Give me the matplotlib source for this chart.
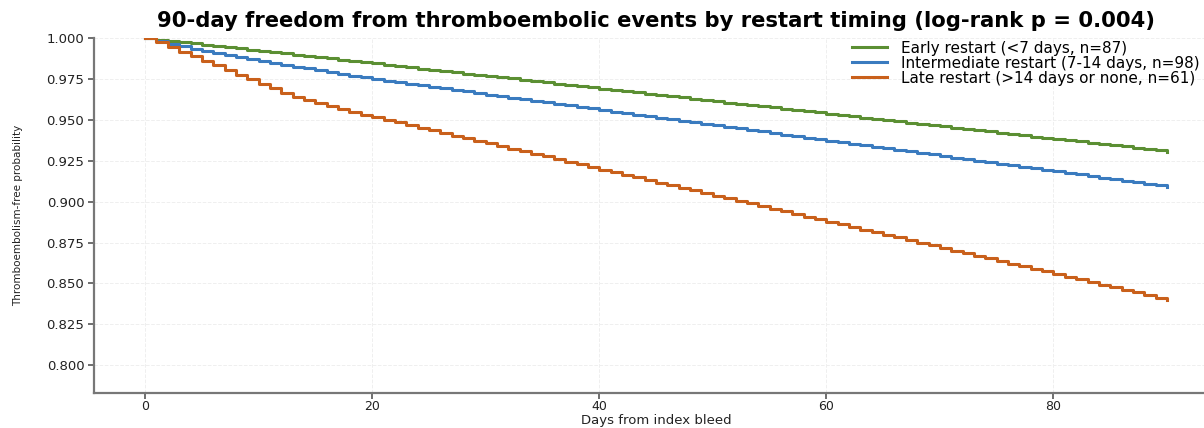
import matplotlib
matplotlib.use("Agg")
import matplotlib.pyplot as plt
from matplotlib.ticker import FormatStrFormatter

# ---- data ----
days = list(range(0, 91))

early = [1.0000, 0.9992, 0.9985, 0.9977, 0.9969, 0.9962, 0.9954, 0.9946, 0.9938, 0.9931,
         0.9923, 0.9915, 0.9908, 0.9900, 0.9892, 0.9885, 0.9877, 0.9869, 0.9861, 0.9854,
         0.9846, 0.9838, 0.9831, 0.9823, 0.9815, 0.9808, 0.9800, 0.9792, 0.9784, 0.9777,
         0.9769, 0.9761, 0.9754, 0.9746, 0.9738, 0.9731, 0.9723, 0.9715, 0.9707, 0.9700,
         0.9692, 0.9684, 0.9677, 0.9669, 0.9661, 0.9654, 0.9646, 0.9638, 0.9630, 0.9623,
         0.9615, 0.9607, 0.9600, 0.9592, 0.9584, 0.9577, 0.9569, 0.9561, 0.9553, 0.9546,
         0.9538, 0.9530, 0.9523, 0.9515, 0.9507, 0.9500, 0.9492, 0.9484, 0.9476, 0.9469,
         0.9461, 0.9453, 0.9446, 0.9438, 0.9430, 0.9423, 0.9415, 0.9407, 0.9399, 0.9392,
         0.9384, 0.9376, 0.9369, 0.9361, 0.9353, 0.9346, 0.9338, 0.9330, 0.9322, 0.9315,
         0.9307]

intermediate = [1.0000, 0.9984, 0.9968, 0.9952, 0.9937, 0.9922, 0.9910, 0.9898, 0.9886, 0.9874,
                0.9862, 0.9850, 0.9838, 0.9827, 0.9816, 0.9805, 0.9794, 0.9783, 0.9772, 0.9761,
                0.9751, 0.9741, 0.9731, 0.9722, 0.9712, 0.9703, 0.9693, 0.9684, 0.9675, 0.9665,
                0.9656, 0.9646, 0.9637, 0.9627, 0.9618, 0.9609, 0.9599, 0.9590, 0.9580, 0.9571,
                0.9562, 0.9552, 0.9543, 0.9533, 0.9524, 0.9515, 0.9505, 0.9496, 0.9486, 0.9477,
                0.9468, 0.9458, 0.9449, 0.9439, 0.9430, 0.9420, 0.9411, 0.9402, 0.9392, 0.9383,
                0.9373, 0.9364, 0.9355, 0.9345, 0.9336, 0.9326, 0.9317, 0.9308, 0.9298, 0.9289,
                0.9279, 0.9270, 0.9261, 0.9251, 0.9242, 0.9232, 0.9223, 0.9214, 0.9204, 0.9195,
                0.9185, 0.9176, 0.9167, 0.9157, 0.9148, 0.9138, 0.9129, 0.9119, 0.9110, 0.9101,
                0.9091]

late = [1.0000, 0.9977, 0.9949, 0.9918, 0.9892, 0.9863, 0.9834, 0.9806, 0.9777, 0.9749,
        0.9720, 0.9694, 0.9667, 0.9642, 0.9622, 0.9605, 0.9585, 0.9569, 0.9548, 0.9532,
        0.9516, 0.9499, 0.9485, 0.9469, 0.9453, 0.9437, 0.9421, 0.9405, 0.9389, 0.9373,
        0.9357, 0.9341, 0.9325, 0.9309, 0.9293, 0.9277, 0.9261, 0.9245, 0.9229, 0.9213,
        0.9197, 0.9181, 0.9165, 0.9149, 0.9133, 0.9117, 0.9101, 0.9085, 0.9069, 0.9053,
        0.9037, 0.9021, 0.9005, 0.8989, 0.8973, 0.8957, 0.8941, 0.8925, 0.8909, 0.8893,
        0.8877, 0.8861, 0.8845, 0.8829, 0.8813, 0.8797, 0.8781, 0.8765, 0.8749, 0.8733,
        0.8717, 0.8701, 0.8685, 0.8669, 0.8653, 0.8637, 0.8621, 0.8605, 0.8589, 0.8573,
        0.8557, 0.8541, 0.8525, 0.8509, 0.8493, 0.8477, 0.8461, 0.8445, 0.8429, 0.8413,
        0.8397]

labels = ["Early restart (<7 days, n=87)",
          "Intermediate restart (7-14 days, n=98)",
          "Late restart (>14 days or none, n=61)"]
colors = ["#5b8f33", "#3a7bbf", "#c9601b"]
series = [early, intermediate, late]

xticks = [0, 20, 40, 60, 80]
yticks = [0.800, 0.825, 0.850, 0.875, 0.900, 0.925, 0.950, 0.975, 1.000]

# ---- figure ----
plt.rcParams['font.family'] = ['DejaVu Sans']
fig = plt.figure(figsize=(12.04, 4.28), dpi=100)
ax = fig.add_axes([0.0781, 0.0825, 0.9336, 0.8280])

for vals, lab, col in zip(series, labels, colors):
    ax.step(days, vals, where='post', color=col, lw=2.2, label=lab)

ax.set_xlim(-4.5, 94.5)
ax.set_ylim(0.7831, 1.0)
ax.set_xticks(xticks)
ax.set_yticks(yticks)
ax.yaxis.set_major_formatter(FormatStrFormatter('%.3f'))

ax.grid(True, color='#efefef', lw=0.7, ls='--')
ax.set_axisbelow(True)
for s in ['top', 'right']:
    ax.spines[s].set_visible(False)
for s in ['left', 'bottom']:
    ax.spines[s].set_color('#777777')
    ax.spines[s].set_linewidth(1.6)
ax.tick_params(axis='both', colors='#555555', labelcolor='#222222',
               length=4, width=1.2)
ax.tick_params(axis='x', pad=1.5, labelsize=9)
ax.tick_params(axis='y', pad=3, labelsize=9.5)

ax.set_title("90-day freedom from thromboembolic events by restart timing (log-rank p = 0.004)",
             fontsize=15.2, fontweight='bold', pad=8)
ax.set_xlabel("Days from index bleed", fontsize=9.5, color='#222222')
ax.xaxis.label.set_va('bottom')
ax.xaxis.set_label_coords(0.5, -0.0975)
ax.set_ylabel("Thromboembolism-free probability", fontsize=7.5, color='#222222')
ax.yaxis.label.set_va('center')
ax.yaxis.set_label_coords(-0.0676, 0.5)

leg = ax.legend(loc='upper right', bbox_to_anchor=(0.9985, 0.912),
                bbox_transform=fig.transFigure, frameon=False,
                fontsize=11, handlelength=2.3, labelspacing=0.0, handletextpad=0.9,
                borderaxespad=0.0, borderpad=0.2)

fig.savefig("out.png", dpi=100)
